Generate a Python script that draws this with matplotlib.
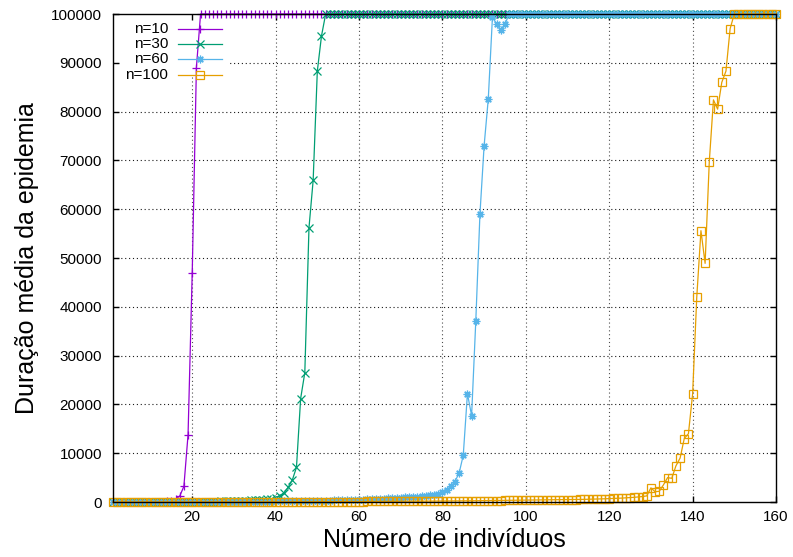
import matplotlib
matplotlib.use('Agg')
import matplotlib.pyplot as plt
from matplotlib.patches import Rectangle

# número de indivíduos (eixo x)
individuos = list(range(1, 161))

# duração média da epidemia para cada n
duracao_n10 = [0, 0, 0, 0, 0, 0, 0, 10, 10, 20,
               30, 50, 80, 150, 300, 600, 1200, 3200, 13800, 47000,
               89000] + [100000] * 139

duracao_n30 = [0, 0, 0, 0, 0, 0, 0, 0, 0, 0,
               0, 0, 0, 10, 10, 10, 20, 20, 30, 30,
               40, 50, 60, 70, 80, 100, 110, 130, 150, 180,
               200, 230, 270, 310, 360, 420, 490, 570, 660,
               900, 1300, 1900, 3000, 4500, 7100, 21200, 26500, 56200, 65900,
               88300, 95500] + [100000] * 109

duracao_n60 = [0, 0, 0, 0, 0, 0, 0, 0, 0, 0,
               0, 0, 0, 0, 0, 0, 0, 0, 10, 10,
               10, 10, 20, 20, 20, 30, 30, 30, 40, 40,
               50, 50, 60, 60, 70, 80, 80, 90, 100, 110,
               120, 130, 140, 150, 160, 180, 190, 210, 220, 240,
               260, 280, 300, 320, 340, 360, 390, 410, 440, 470,
               500, 530, 560, 600, 640, 680, 720, 770, 820, 870,
               930, 990, 1050, 1120, 1200, 1290, 1390, 1500, 1700,
               2100, 2500, 3200, 4200, 5900, 9600, 22200, 17700, 37000, 59000,
               73000, 82600, 99400, 97900, 96700, 97900] + [100000] * 65

duracao_n100 = [0, 0, 0, 0, 0, 0, 0, 0, 0, 0,
                0, 0, 0, 0, 0, 0, 0, 0, 0, 0,
                0, 0, 0, 0, 0, 10, 10, 10, 10, 10,
                10, 10, 20, 20, 20, 20, 20, 30, 30, 30,
                30, 40, 40, 40, 40, 50, 50, 50, 60, 60,
                60, 70, 70, 70, 80, 80, 90, 90, 90, 100,
                100, 110, 110, 120, 120, 130, 130, 140, 140, 150,
                150, 160, 160, 170, 170, 180, 190, 190, 200, 200,
                210, 220, 220, 230, 240, 240, 250, 260, 270, 270,
                280, 290, 300, 300, 310, 320, 330, 340, 350, 360,
                370, 380, 390, 400, 410, 420, 430, 450, 460, 470,
                490, 500, 520, 540, 560, 580, 600, 630, 660, 690,
                720, 760, 800, 850, 900, 960, 1030, 1120, 1250, 2900,
                2100, 2200, 3500, 5000, 4850, 7400, 9000, 13000, 14000, 22100,
                42000, 55600, 48900, 69700, 82400, 80500, 86000, 88300, 97000] + [100000] * 11

rotulos = ['n=10', 'n=30', 'n=60', 'n=100']
cores = ['#9400d3', '#009e73', '#56b4e9', '#e69f00']
marcadores = ['+', 'x', (8, 2, 0), 's']
series = [duracao_n10, duracao_n30, duracao_n60, duracao_n100]

xticks = [20, 40, 60, 80, 100, 120, 140, 160]
yticks = list(range(0, 100001, 10000))

plt.rcParams['font.family'] = ['Liberation Sans', 'DejaVu Sans']

fig = plt.figure(figsize=(7.93, 5.57), dpi=100)
ax = fig.add_axes([113 / 793, 55 / 557, 663 / 793, 488 / 557])

# grade pontilhada
for xv in xticks[:-1]:
    ax.axvline(xv, color='0.3', linestyle=(0, (1, 2.5)), linewidth=0.8, zorder=0.3)
for yv in yticks[1:-1]:
    ax.axhline(yv, color='0.1', linestyle=(0, (1, 2.5)), linewidth=0.8, zorder=0.3)

for vals, cor, m in zip(series, cores, marcadores):
    ax.plot(individuos, vals, color=cor, linewidth=0.9, marker=m, markersize=5.5,
            markeredgewidth=0.9, markerfacecolor='none', clip_on=False, zorder=2)

ax.set_xlim(1, 160)
ax.set_ylim(0, 100000)
ax.set_xticks(xticks)
ax.set_yticks(yticks)
ax.set_yticklabels([str(v) for v in yticks])
ax.tick_params(direction='in', length=4.5, width=1, top=True, right=True,
               labelsize=11, colors='black')
ax.tick_params(axis='y', pad=8)
ax.tick_params(axis='x', pad=6)
for s in ax.spines.values():
    s.set_linewidth(1)
    s.set_zorder(3)

ax.set_xlabel('Número de indivíduos', fontsize=18, va='center')
ax.xaxis.set_label_coords(0.5, -(540 - 502) / 488)
ax.set_ylabel('Duração média da epidemia', fontsize=18, va='center')
ax.yaxis.set_label_coords(-(113 - 27) / 663, 0.5)

# legenda (estilo gnuplot: texto à esquerda, alinhado à direita)
ax.add_patch(Rectangle((0.012, 0.87), 0.165, 0.13, transform=ax.transAxes,
                       facecolor='white', edgecolor='none', zorder=1))
linhas_leg = [0.969, 0.9385, 0.9078, 0.875]
for lab, cor, m, yy in zip(rotulos, cores, marcadores, linhas_leg):
    ax.plot([0.098, 0.164], [yy, yy], transform=ax.transAxes, color=cor,
            linewidth=0.9, zorder=2.5)
    ax.plot([0.131], [yy], transform=ax.transAxes, color=cor, marker=m,
            markersize=5.5, markeredgewidth=0.9, markerfacecolor='none', zorder=2.5)
    ax.text(0.083, yy, lab, transform=ax.transAxes, ha='right', va='center',
            fontsize=11)

fig.savefig('out.png', dpi=100)
